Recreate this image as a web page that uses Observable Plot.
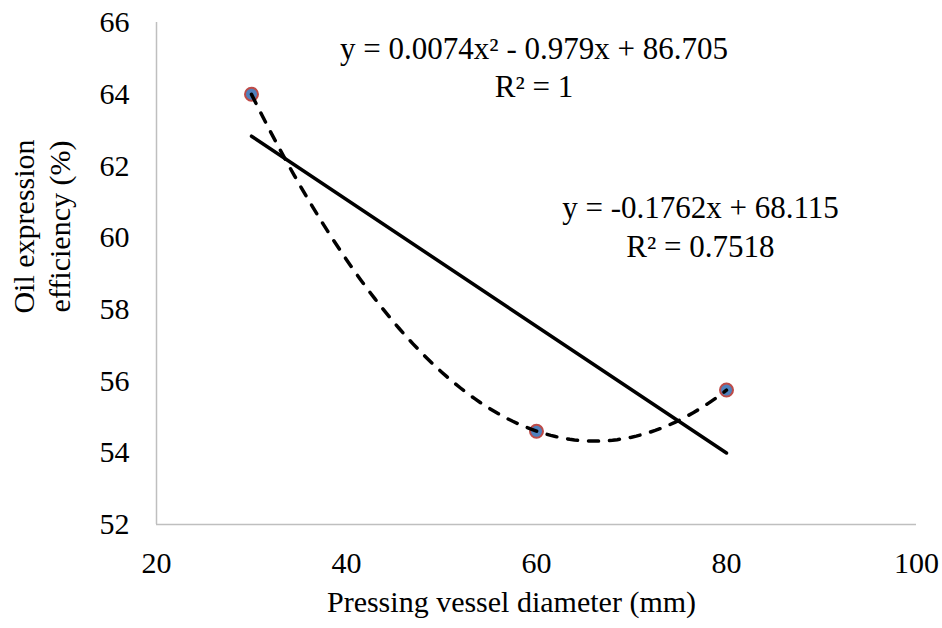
<!DOCTYPE html>
<html>
<head>
<meta charset="utf-8">
<script src="https://cdn.jsdelivr.net/npm/d3@7"></script>
<script src="https://cdn.jsdelivr.net/npm/@observablehq/plot@0.6"></script>
<style>
  html, body { margin: 0; padding: 0; background: #fff; }
</style>
</head>
<body>
<div id="chart"></div>
<script>
// Data
const diameter = [30, 60, 80];           // Pressing vessel diameter (mm)
const efficiency = [64.0, 54.6, 55.75];  // Oil expression efficiency (%)
const xTicks = [20, 40, 60, 80, 100];
const yTicks = [52, 54, 56, 58, 60, 62, 64, 66];
// Trendline equations shown on the chart
const polyCoef = [0.0074, -0.979, 86.705]; // a x^2 + b x + c
const polyR2 = "1";
const linCoef = [-0.1762, 68.115];
const linR2 = "0.7518";

const points = diameter.map((d, i) => ({x: d, y: efficiency[i]}));
const polyX = d3.range(diameter[0], diameter[diameter.length - 1] + 0.001, 0.5);
const polyCurve = polyX.map(x => ({x, y: polyCoef[0] * x * x + polyCoef[1] * x + polyCoef[2]}));

const polyLabel = `y = ${polyCoef[0]}x² - ${Math.abs(polyCoef[1])}x + ${polyCoef[2]}\nR² = ${polyR2}`;
const linLabel = `y = ${linCoef[0]}x + ${linCoef[1]}\nR² = ${linR2}`;

const font = "Liberation Serif";

const chart = Plot.plot({
  width: 942,
  height: 628,
  marginLeft: 156,
  marginRight: 26,
  marginTop: 22,
  marginBottom: 104,
  style: {fontFamily: font, fontSize: "30px", background: "#fff", color: "#000"},
  x: {domain: [20, 100], ticks: xTicks, axis: null},
  y: {domain: [52, 66], ticks: yTicks, axis: null},
  marks: [
    Plot.ruleX([20], {stroke: "#bfbfbf", strokeWidth: 1.5}),
    Plot.ruleY([52], {stroke: "#bfbfbf", strokeWidth: 1.5}),
    // tick labels
    Plot.text(xTicks, {x: d => d, frameAnchor: "bottom", lineAnchor: "middle", dy: 39, text: d => String(d), fontSize: 30, fontFamily: font, fill: "#000"}),
    Plot.text(yTicks, {y: d => d, frameAnchor: "left", textAnchor: "end", lineAnchor: "middle", dx: -27, text: d => String(d), fontSize: 30, fontFamily: font, fill: "#000"}),
    Plot.linearRegressionY(points, {x: "x", y: "y", ci: 0, stroke: "#000", strokeWidth: 3.5}),
    Plot.dot(points, {x: "x", y: "y", r: 6.5, fill: "#4f81bd", stroke: "#be4b48", strokeWidth: 2}),
    Plot.line(polyCurve, {x: "x", y: "y", stroke: "#000", strokeWidth: 3.5, strokeDasharray: "10,11", strokeLinecap: "round"}),
    Plot.text([polyLabel], {x: 59.74, y: 64.80, text: d => d, fontSize: 31, fontFamily: font, lineHeight: 1.25, textAnchor: "middle", fill: "#000"}),
    Plot.text([linLabel], {x: 77.26, y: 60.34, text: d => d, fontSize: 31, fontFamily: font, lineHeight: 1.25, textAnchor: "middle", fill: "#000"}),
    Plot.text(["Pressing vessel diameter (mm)"], {frameAnchor: "bottom", text: d => d, dx: -25, dy: 87, fontSize: 30, fontFamily: font, fill: "#000"}),
    Plot.text(["Oil expression\nefficiency (%)"], {frameAnchor: "left", text: d => d, textAnchor: "middle", dx: -116, dy: -47, rotate: -90, fontSize: 30, fontFamily: font, lineHeight: 1.2, fill: "#000"})
  ]
});
document.getElementById("chart").appendChild(chart);
</script>
</body>
</html>
